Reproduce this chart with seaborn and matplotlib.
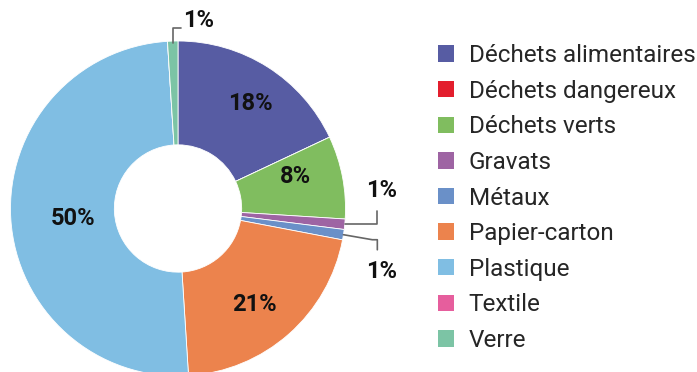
import numpy as np
import matplotlib
matplotlib.use("Agg")
import matplotlib.pyplot as plt
from matplotlib.patches import Patch
import seaborn as sns

categories = ["Déchets alimentaires", "Déchets dangereux", "Déchets verts", "Gravats",
              "Métaux", "Papier-carton", "Plastique", "Textile", "Verre"]
values = [18, 0, 8, 1, 1, 21, 50, 0, 1]
colors = ["#575CA3", "#E31E2D", "#80BD5F", "#9E64A3", "#6A90C8",
          "#EC834D", "#80BEE3", "#E65E9D", "#7CC4A5"]

sns.set_theme(style="white")
plt.rcParams["font.family"] = ["Roboto", "DejaVu Sans"]
palette = sns.color_palette(colors)

W, H = 697, 372
fig = plt.figure(figsize=(W / 100, H / 100), dpi=100)
cx, cy, R = 178, 372 - 208.5, 167.5
ax = fig.add_axes([(cx - R) / W, (cy - R) / H, 2 * R / W, 2 * R / H])

wedges, _ = ax.pie(values, colors=palette, startangle=90, counterclock=False,
                   radius=1, wedgeprops=dict(width=0.62, edgecolor="white", linewidth=0.6))
ax.set_xlim(-1, 1)
ax.set_ylim(-1, 1)
ax.set_aspect("equal")
ax.axis("off")

# percentage labels
total = sum(values)
cum = np.cumsum([0] + values[:-1])
mids = {}
for name, v, c in zip(categories, values, cum):
    mids[name] = np.deg2rad(90 - (c + v / 2) / total * 360)

lab_kw = dict(fontsize=17, fontweight="bold", color="#111111", ha="center", va="center")
inner = {"Déchets alimentaires": (0.76, -0.04), "Déchets verts": (0.73, 0.08),
         "Papier-carton": (0.73, -0.05), "Plastique": (0.63, 0.03)}
for name, (r, dt) in inner.items():
    a = mids[name] + dt
    v = values[categories.index(name)]
    ax.text(r * np.cos(a), r * np.sin(a), f"{v}%", **lab_kw)

line_kw = dict(color="#666666", lw=1.2, clip_on=False)

# Verre: leader up from the rim
a = mids["Verre"]
x0, y0 = np.cos(a), np.sin(a)
ax.plot([x0, x0, x0 + 0.05], [y0 - 0.01, 1.075, 1.075], **line_kw)
ax.text(x0 + 0.06, 1.12, f"{values[categories.index('Verre')]}%",
        **{**lab_kw, "ha": "left"}, clip_on=False)

# Gravats: leader right then up
a = mids["Gravats"]
x0, y0 = np.cos(a), np.sin(a)
ax.plot([x0, 1.19, 1.19], [y0, y0, y0 + 0.08], **line_kw)
ax.text(1.215, 0.11, f"{values[categories.index('Gravats')]}%", **lab_kw, clip_on=False)

# Métaux: leader right then down
a = mids["Métaux"]
x0, y0 = np.cos(a), np.sin(a)
ax.plot([x0, 1.16, 1.19, 1.19], [y0, y0 - 0.03, y0 - 0.03, y0 - 0.09], **line_kw)
ax.text(1.215, -0.375, f"{values[categories.index('Métaux')]}%", **lab_kw, clip_on=False)

handles = [Patch(facecolor=c, edgecolor="none") for c in palette]
fig.legend(handles, categories, loc="upper left", bbox_to_anchor=(438 / W, 1 - 44 / H),
           frameon=False, fontsize=17.5, handlelength=0.66, handleheight=0.66,
           handletextpad=0.6, labelspacing=0.52, borderpad=0, borderaxespad=0)

fig.savefig("out.png", dpi=100)
